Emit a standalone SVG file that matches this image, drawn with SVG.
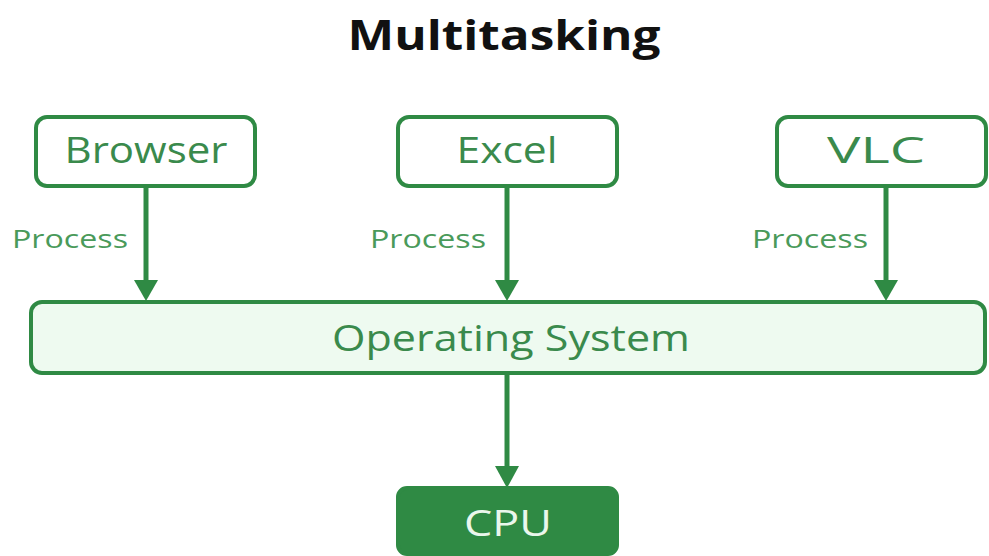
<svg xmlns="http://www.w3.org/2000/svg" width="989" height="556" viewBox="0 0 989 556">
<defs>
<style>
.box{fill:#ffffff;stroke:#2f8a44;stroke-width:4}
.os{fill:#eefaf0;stroke:#2f8a44;stroke-width:4}
.cpu{fill:#2f8a44;stroke:#2f8a44;stroke-width:4}
.lbl{font-family:"Open Sans","Liberation Sans",sans-serif;font-size:37px;fill:#3a8a4c;text-anchor:middle}
.proc{font-family:"Open Sans","Liberation Sans",sans-serif;font-size:25px;fill:#4a9a5a;text-anchor:middle}
.title{font-family:"Open Sans","Liberation Sans",sans-serif;font-size:42px;font-weight:bold;fill:#111;text-anchor:middle}
.line{stroke:#2f8a44;stroke-width:5;fill:none}
.head{fill:#2f8a44}
</style>
</defs>
<rect width="989" height="556" fill="#ffffff"/>
<text class="title" x="504" y="50" textLength="313" lengthAdjust="spacingAndGlyphs">Multitasking</text>
<g id="browser"><rect class="box" x="36" y="117" width="219" height="69" rx="11"/><text class="lbl" x="146" y="163" textLength="163" lengthAdjust="spacingAndGlyphs">Browser</text></g>
<g id="excel"><rect class="box" x="398" y="117" width="219" height="69" rx="11"/><text class="lbl" x="507" y="163" textLength="101" lengthAdjust="spacingAndGlyphs">Excel</text></g>
<g id="vlc"><rect class="box" x="777" y="117" width="209" height="69" rx="11"/><text class="lbl" x="876" y="163" textLength="98" lengthAdjust="spacingAndGlyphs">VLC</text></g>
<g id="os"><rect class="os" x="31" y="302" width="954" height="71" rx="11"/><text class="lbl" x="511" y="351" textLength="358" lengthAdjust="spacingAndGlyphs">Operating System</text></g>
<g id="cpu"><rect class="cpu" x="398" y="488" width="219" height="66" rx="9"/><text class="lbl" x="508" y="536" textLength="88" lengthAdjust="spacingAndGlyphs" style="fill:#eaf7ec">CPU</text></g>
<g id="connectors">
<line class="line" x1="146" y1="186" x2="146" y2="282"/><polygon class="head" points="134,280 158,280 146,301"/>
<line class="line" x1="507" y1="186" x2="507" y2="282"/><polygon class="head" points="495,280 519,280 507,301"/>
<line class="line" x1="886" y1="186" x2="886" y2="282"/><polygon class="head" points="874,280 898,280 886,301"/>
<line class="line" x1="507" y1="373" x2="507" y2="468"/><polygon class="head" points="495,466 519,466 507,488"/>
<text class="proc" x="70" y="248" textLength="116" lengthAdjust="spacingAndGlyphs">Process</text>
<text class="proc" x="428" y="248" textLength="116" lengthAdjust="spacingAndGlyphs">Process</text>
<text class="proc" x="810" y="248" textLength="116" lengthAdjust="spacingAndGlyphs">Process</text>
</g>
</svg>
